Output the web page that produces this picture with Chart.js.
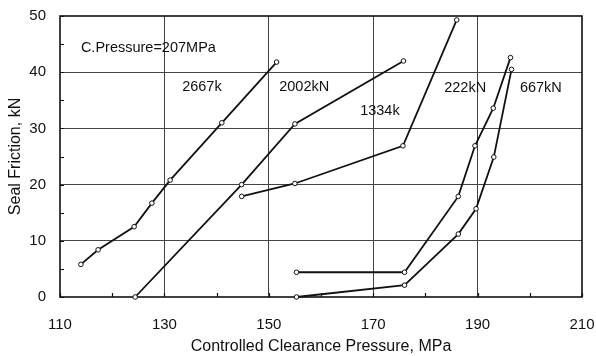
<!DOCTYPE html>
<html><head><meta charset="utf-8">
<script src="https://cdn.jsdelivr.net/npm/chart.js@4"></script>
<style>html,body{margin:0;padding:0;background:#fff}</style>
</head><body>
<canvas id="c" width="596" height="356"></canvas>
<script>
// ---- data ----
const seriesNames = ["2667k", "2002kN", "1334k", "222kN", "667kN"];
const s2667kX = [114.0, 117.3, 124.2, 127.6, 131.1, 141.0, 151.5];
const s2667kY = [5.8, 8.4, 12.5, 16.7, 20.8, 31.0, 41.8];
const s2002kX = [124.4, 144.8, 155.0, 175.8];
const s2002kY = [0.0, 20.0, 30.8, 42.0];
const s1334kX = [144.8, 155.0, 175.7, 186.0];
const s1334kY = [17.9, 20.2, 26.9, 49.3];
const s222kX = [155.3, 176.0, 186.3, 189.5, 193.0, 196.3];
const s222kY = [4.4, 4.4, 17.9, 26.9, 33.6, 42.6];
const s667kX = [155.3, 176.0, 186.3, 189.7, 193.1, 196.5];
const s667kY = [0.0, 2.1, 11.2, 15.7, 24.9, 40.5];

const xMajorTicks = [110, 130, 150, 170, 190, 210];
const yMajorTicks = [0, 10, 20, 30, 40, 50];

const noteTexts = ["C.Pressure=207MPa", "2667k", "2002kN", "1334k", "222kN", "667kN"];
const noteX = [114.0, 133.4, 152.0, 167.5, 183.6, 198.1];
const noteY = [44.3, 37.4, 37.4, 33.1, 37.2, 37.2];

const xTitle = "Controlled Clearance Pressure, MPa";
const yTitle = "Seal Friction, kN";

function pts(xs, ys) { return xs.map((x, i) => ({x: x, y: ys[i]})); }
const allX = [s2667kX, s2002kX, s1334kX, s222kX, s667kX];
const allY = [s2667kY, s2002kY, s1334kY, s222kY, s667kY];

const FONT = "'Liberation Sans', Arial, sans-serif";
const INK = '#111';

const datasets = seriesNames.map((n, i) => ({
  label: n,
  data: pts(allX[i], allY[i]),
  borderColor: INK,
  borderWidth: 1.8,
  pointRadius: 2.3,
  pointBorderWidth: 1,
  pointBackgroundColor: '#fff',
  pointBorderColor: INK,
  showLine: true,
  tension: 0,
  clip: false
}));

const decor = {
  id: 'decor',
  beforeDatasetsDraw(chart) {
    const ctx = chart.ctx, a = chart.chartArea;
    const xs = chart.scales.x, ys = chart.scales.y;
    ctx.save();
    ctx.strokeStyle = INK;
    ctx.lineWidth = 1.2;
    ctx.beginPath();
    xs.ticks.forEach(t => {
      const px = Math.round(xs.getPixelForValue(t.value)) + 0.5;
      ctx.moveTo(px, a.bottom); ctx.lineTo(px, a.bottom - 4);
    });
    ys.ticks.forEach(t => {
      const py = Math.round(ys.getPixelForValue(t.value)) + 0.5;
      ctx.moveTo(a.left, py); ctx.lineTo(a.left + 4, py);
    });
    ctx.stroke();
    ctx.lineWidth = 1.6;
    ctx.strokeRect(a.left, a.top, a.right - a.left, a.bottom - a.top);
    ctx.restore();
  },
  afterDatasetsDraw(chart) {
    const ctx = chart.ctx;
    const xs = chart.scales.x, ys = chart.scales.y;
    ctx.save();
    ctx.fillStyle = INK;
    ctx.font = '14.5px ' + FONT;
    ctx.textAlign = 'left';
    ctx.textBaseline = 'middle';
    noteTexts.forEach((t, i) => {
      ctx.fillText(t, xs.getPixelForValue(noteX[i]), ys.getPixelForValue(noteY[i]));
    });
    ctx.restore();
  }
};

new Chart(document.getElementById('c'), {
  type: 'scatter',
  data: { datasets: datasets },
  options: {
    responsive: false,
    animation: false,
    devicePixelRatio: 1,
    layout: { padding: { top: 16, right: 14, left: 0, bottom: 0 } },
    plugins: { legend: { display: false }, tooltip: { enabled: false } },
    scales: {
      x: {
        type: 'linear', min: 110, max: 210,
        afterFit: s => { s.height = 59; s.paddingLeft = 0; s.paddingRight = 0; },
        border: { display: false },
        grid: {
          drawTicks: false,
          lineWidth: 1,
          color: c => ([130, 150, 170, 190].includes(c.tick.value) ? '#444' : 'rgba(0,0,0,0)')
        },
        ticks: {
          stepSize: 10, autoSkip: false, maxRotation: 0, padding: 19,
          color: INK, font: { family: FONT, size: 15 },
          callback: v => (xMajorTicks.includes(v) ? String(v) : '')
        },
        title: { display: true, text: xTitle, color: INK, font: { family: FONT, size: 16 }, padding: { top: 0, bottom: 0 } }
      },
      y: {
        type: 'linear', min: 0, max: 50,
        afterFit: s => { s.width = 60; s.paddingTop = 0; s.paddingBottom = 0; },
        border: { display: false },
        grid: {
          drawTicks: false,
          lineWidth: 1,
          color: c => ([10, 20, 30, 40].includes(c.tick.value) ? '#444' : 'rgba(0,0,0,0)')
        },
        ticks: {
          stepSize: 5, autoSkip: false, padding: 14,
          color: INK, font: { family: FONT, size: 15 },
          callback: v => (yMajorTicks.includes(v) ? String(v) : '')
        },
        title: { display: true, text: yTitle, color: INK, font: { family: FONT, size: 16 }, padding: { top: 6, bottom: 0 } }
      }
    }
  },
  plugins: [decor]
});
</script>
</body></html>
